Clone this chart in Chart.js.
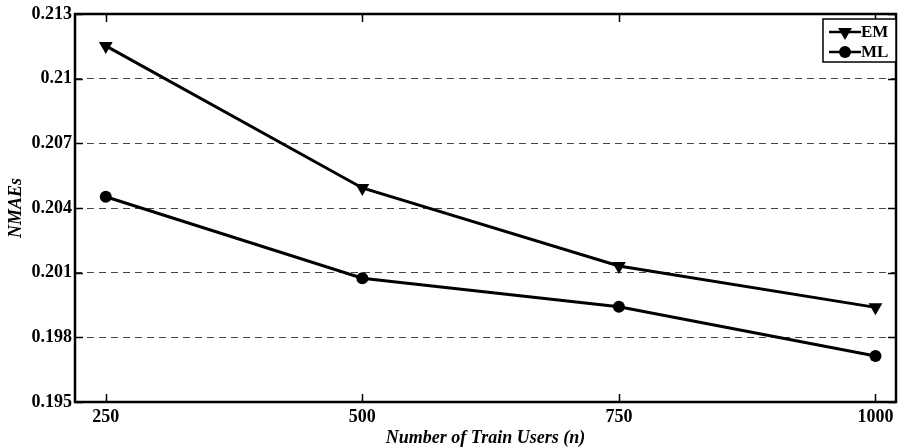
<!DOCTYPE html>
<html>
<head>
<meta charset="utf-8">
<script src="https://cdn.jsdelivr.net/npm/chart.js@4.4.1/dist/chart.umd.min.js"></script>
<style>
  html, body { margin: 0; padding: 0; background: #fff; }
  #wrap { width: 904px; height: 448px; }
</style>
</head>
<body>
<div id="wrap"><canvas id="nmae"></canvas></div>
<script>
const trainUsers = [250, 500, 750, 1000];
const emValues = [0.21152, 0.20493, 0.20131, 0.19939];
const mlValues = [0.20452, 0.20074, 0.19942, 0.19713];
const yTicks = [0.195, 0.198, 0.201, 0.204, 0.207, 0.21, 0.213];
const seriesNames = ['EM', 'ML'];

const serif = "'Liberation Serif', 'Times New Roman', serif";

function toPoints(values) {
  return trainUsers.map((u, i) => ({ x: u, y: values[i] }));
}

// frame + inward ticks, like the matlab box
const framePlugin = {
  id: 'frame',
  afterDraw(chart) {
    const { ctx, chartArea: a, scales } = chart;
    ctx.save();
    ctx.strokeStyle = '#000';
    ctx.lineWidth = 1.5;
    ctx.beginPath();
    for (const v of trainUsers) {
      const px = Math.round(scales.x.getPixelForValue(v)) + 0.5;
      ctx.moveTo(px, a.bottom); ctx.lineTo(px, a.bottom - 8);
      ctx.moveTo(px, a.top); ctx.lineTo(px, a.top + 8);
    }
    for (const v of yTicks) {
      const py = Math.round(scales.y.getPixelForValue(v)) + 0.5;
      ctx.moveTo(a.left, py); ctx.lineTo(a.left + 8, py);
      ctx.moveTo(a.right, py); ctx.lineTo(a.right - 8, py);
    }
    ctx.stroke();
    ctx.lineWidth = 2.5;
    ctx.strokeRect(a.left, a.top, a.right - a.left, a.bottom - a.top);
    ctx.restore();
  }
};

const legendPlugin = {
  id: 'boxLegend',
  afterDraw(chart) {
    const { ctx, chartArea: a } = chart;
    const boxW = 73, boxH = 43;
    const bx = a.right - boxW, by = a.top + 5;
    ctx.save();
    ctx.fillStyle = '#fff';
    ctx.fillRect(bx, by, boxW, boxH);
    ctx.strokeStyle = '#000';
    ctx.lineWidth = 1.5;
    ctx.strokeRect(bx, by, boxW, boxH);
    chart.data.datasets.forEach((ds, i) => {
      const ly = by + 13 + i * 20;
      ctx.lineWidth = 2.5;
      ctx.beginPath();
      ctx.moveTo(bx + 6, ly);
      ctx.lineTo(bx + 38, ly);
      ctx.stroke();
      const mx = bx + 22;
      ctx.fillStyle = '#000';
      ctx.beginPath();
      if (ds.pointStyle === 'triangle') {
        const r = 8;
        ctx.moveTo(mx, ly + r);
        ctx.lineTo(mx - r * 0.866, ly - r / 2);
        ctx.lineTo(mx + r * 0.866, ly - r / 2);
        ctx.closePath();
      } else {
        ctx.arc(mx, ly, 6, 0, Math.PI * 2);
      }
      ctx.fill();
      ctx.font = 'bold 17px ' + serif;
      ctx.textBaseline = 'middle';
      ctx.textAlign = 'left';
      ctx.fillText(ds.label, bx + 38, ly + 1);
    });
    ctx.restore();
  }
};

new Chart(document.getElementById('nmae'), {
  type: 'line',
  data: {
    datasets: [{
      label: seriesNames[0],
      data: toPoints(emValues),
      borderColor: '#000',
      backgroundColor: '#000',
      borderWidth: 3,
      pointStyle: 'triangle',
      pointRotation: 180,
      pointRadius: 8,
      pointBorderWidth: 0,
      tension: 0
    }, {
      label: seriesNames[1],
      data: toPoints(mlValues),
      borderColor: '#000',
      backgroundColor: '#000',
      borderWidth: 3,
      pointStyle: 'circle',
      pointRadius: 6,
      pointBorderWidth: 0,
      tension: 0
    }]
  },
  options: {
    responsive: true,
    maintainAspectRatio: false,
    animation: false,
    layout: { padding: { top: 14, right: 4, left: 0, bottom: 0 } },
    plugins: { legend: { display: false }, tooltip: { enabled: false } },
    scales: {
      x: {
        type: 'linear',
        min: 220,
        max: 1020,
        afterBuildTicks: (scale) => { scale.ticks = trainUsers.map(v => ({ value: v })); },
        afterFit: (scale) => { scale.height = 46; },
        grid: { display: false, drawTicks: false },
        border: { display: false },
        ticks: {
          color: '#000',
          padding: 5,
          maxRotation: 0,
          font: { family: serif, size: 18, weight: 'bold' },
          callback: (v) => String(v)
        },
        title: {
          display: true,
          text: 'Number of Train Users (n)',
          color: '#000',
          padding: { top: 0, bottom: -1 },
          font: { family: serif, size: 18, weight: 'bold', style: 'italic' }
        }
      },
      y: {
        min: 0.195,
        max: 0.213,
        afterBuildTicks: (scale) => { scale.ticks = yTicks.map(v => ({ value: v })); },
        afterFit: (scale) => { scale.width = 75; },
        grid: {
          drawTicks: false,
          lineWidth: 1,
          color: (c) => (c.tick && (c.tick.value === 0.195 || c.tick.value === 0.213)) ? 'rgba(0,0,0,0)' : '#444'
        },
        border: { display: false, dash: [7, 5] },
        ticks: {
          color: '#000',
          padding: 3,
          font: { family: serif, size: 18, weight: 'bold' },
          callback: (v) => String(Number(v.toFixed(3)))
        },
        title: {
          display: true,
          text: 'NMAEs',
          color: '#000',
          padding: { top: 6, bottom: 0 },
          font: { family: serif, size: 18, weight: 'bold', style: 'italic' }
        }
      }
    }
  },
  plugins: [framePlugin, legendPlugin]
});
</script>
</body>
</html>
